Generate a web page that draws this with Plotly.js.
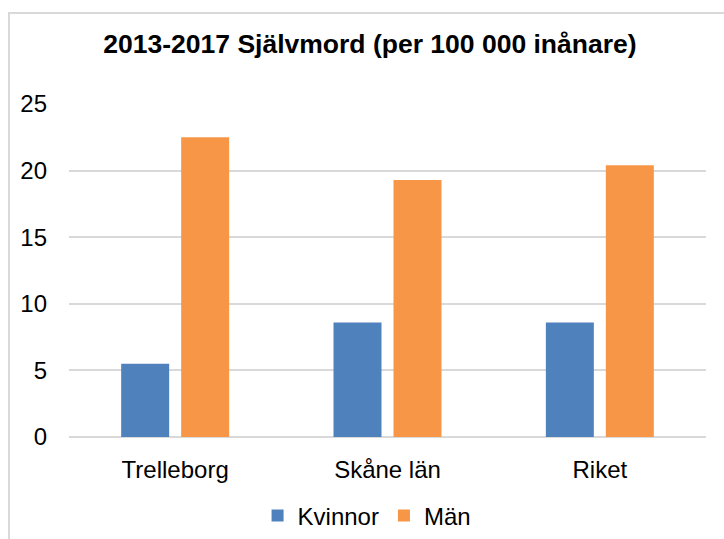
<!DOCTYPE html>
<html>
<head>
<meta charset="utf-8">
<script src="https://cdn.plot.ly/plotly-3.0.1.min.js"></script>
<style>
  html, body { margin: 0; padding: 0; background: #fff; }
  #wrap { position: relative; width: 724px; height: 539px; overflow: hidden; }
  #chart { width: 724px; height: 539px; }
  #frame { position: absolute; left: 8px; top: 12px; width: 730px; height: 540px;
           border-left: 2px solid #d9d9d9; border-top: 2px solid #d9d9d9; pointer-events: none; }
</style>
</head>
<body>
<div id="wrap">
  <div id="chart"></div>
  <div id="frame"></div>
</div>
<script>
const categories = ["Trelleborg", "Skåne län", "Riket"];
const kvinnor = [5.5, 8.6, 8.6];
const man = [22.5, 19.3, 20.4];
const seriesNames = ["Kvinnor", "Män"];
const yTicks = [0, 5, 10, 15, 20, 25];

const font = "Liberation Sans, Arial, sans-serif";

const traces = [
  { type: "bar", name: seriesNames[0], x: categories, y: kvinnor,
    marker: { color: "#4F81BD" }, hoverinfo: "none" },
  { type: "bar", name: seriesNames[1], x: categories, y: man,
    marker: { color: "#F79646" }, hoverinfo: "none" }
];

const layout = {
  width: 724, height: 539,
  paper_bgcolor: "rgba(0,0,0,0)", plot_bgcolor: "#fff",
  margin: { l: 69, r: 18, t: 104, b: 102 },
  font: { family: font, size: 24, color: "#000" },
  title: { text: "<b>2013-2017 Självmord (per 100 000 inånare)</b>",
           font: { family: font, size: 26.5, color: "#000" },
           xref: "container", x: 0.511, xanchor: "center",
           yref: "container", y: 1 - 44 / 539, yanchor: "middle" },
  barmode: "group", bargap: 0.435, bargroupgap: 0.2,
  xaxis: { type: "category", showgrid: false, zeroline: false, showline: false,
           ticks: "", ticklabelstandoff: 16, tickfont: { size: 24 } },
  yaxis: { range: [0, 25], tickvals: yTicks, ticktext: yTicks.map(String),
           showgrid: true, gridcolor: "#d9d9d9", gridwidth: 2,
           zeroline: true, zerolinecolor: "#d9d9d9", zerolinewidth: 2,
           showline: false, ticks: "", ticklabelstandoff: 21, tickfont: { size: 24 } },
  showlegend: true,
  legend: { orientation: "h", xref: "container", x: 0.507, xanchor: "center",
            yref: "container", y: 1 - 516 / 539, yanchor: "middle",
            font: { size: 24 }, itemwidth: 30, traceorder: "normal",
            bgcolor: "rgba(0,0,0,0)" }
};

Plotly.newPlot("chart", traces, layout, { displayModeBar: false, staticPlot: true });
</script>
</body>
</html>
